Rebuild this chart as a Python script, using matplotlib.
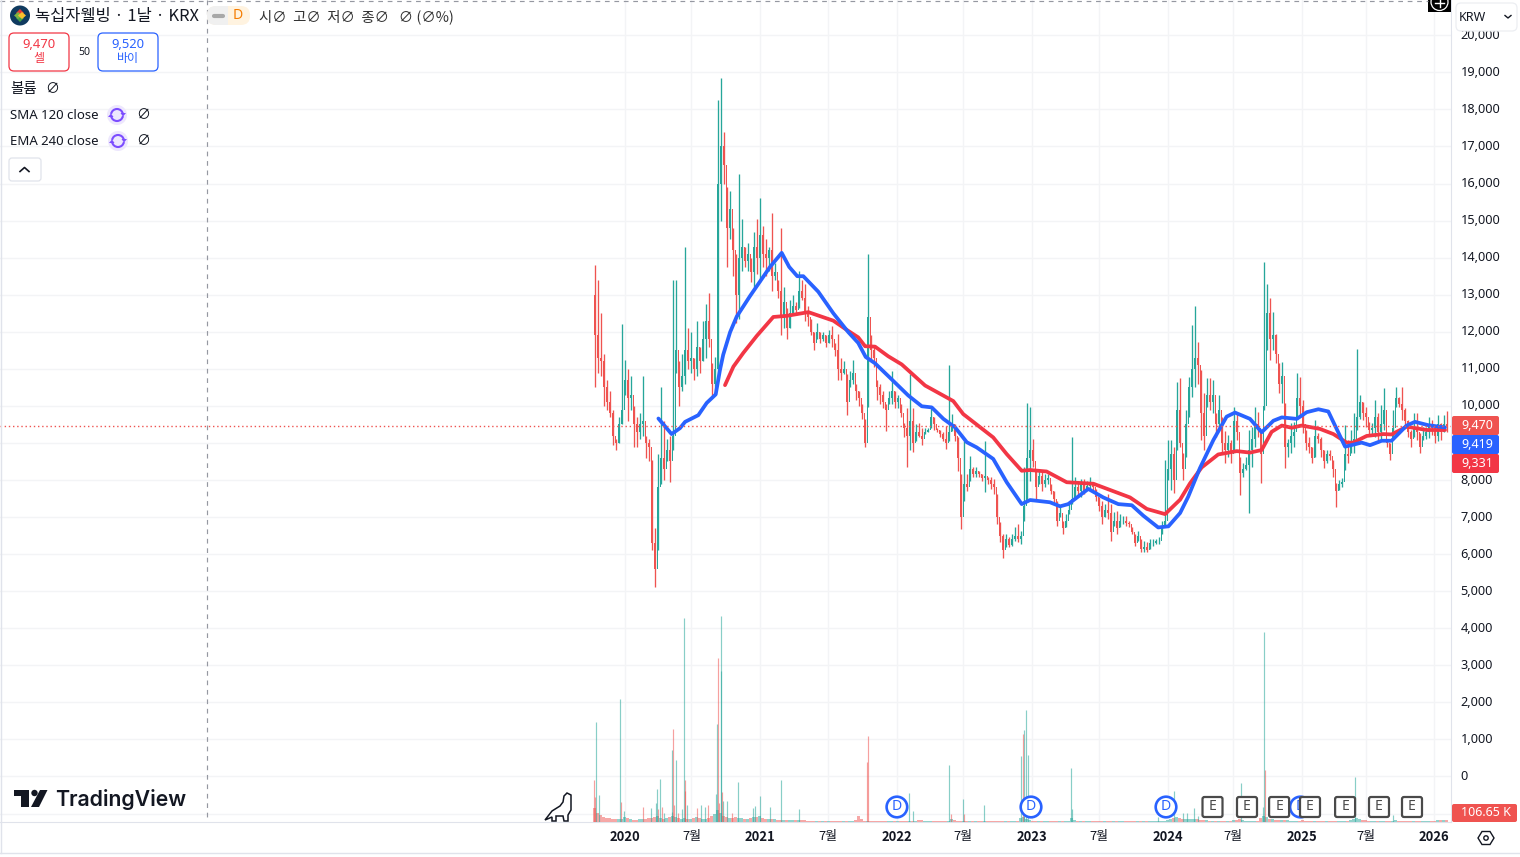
"""Green Cross Wellbeing daily chart on KRX, in the TradingView layout."""
import matplotlib
matplotlib.use("Agg")
import matplotlib.pyplot as plt
from matplotlib.patches import Arc, Circle, FancyBboxPatch, Polygon, Rectangle

RED = "#ef5350"
GREEN = "#26a69a"
BLUE = "#2962ff"
MA_RED = "#f23645"
GRID = "#f3f4f6"
EDGE = "#e0e3eb"
INK = "#131722"

KR = ["Noto Sans CJK KR", "DejaVu Sans"]
LATIN = ["Noto Sans", "Noto Sans CJK KR", "DejaVu Sans"]

# one candle per session
highs = [
    13800, 13400, 12500, 11400, 10700, 10400, 9900, 9100, 9700, 12200,
    11250, 11000, 10800, 10000, 9700, 9800, 10800, 9200, 9100, 8540,
    6700, 8700, 10500, 9600, 9100, 9200, 13400, 13400, 11200, 11400,
    14300, 12100, 12000, 11300, 12300, 11600, 12300, 12750, 13050, 11150,
    11330, 18265, 18840, 17400, 15900, 15800, 14800, 14100, 16250, 15050,
    14300, 14400, 14000, 14700, 15050, 15600, 14850, 14500, 14300, 15200,
    13850, 13400, 14800, 13200, 12650, 12850, 13000, 12800, 13650, 13400,
    13300, 12700, 12350, 12000, 12250, 12000, 12000, 11900, 12050, 12150,
    11700, 11950, 11300, 11200, 10850, 10950, 11250, 10600, 10400, 10050,
    9650, 14090, 11900, 11580, 10700, 10600, 10400, 10050, 10400, 10950,
    10400, 10300, 10050, 9550, 9950, 10850, 9950, 9500, 9550, 9400,
    9400, 9400, 9950, 9700, 9400, 9350, 9300, 9450, 11100, 9780,
    9500, 9150, 8160, 9050, 8160, 8650, 8340, 8340, 8250, 8160,
    9060, 8070, 8070, 8030, 7620, 6860, 6540, 6540, 6450, 6540,
    6720, 6810, 6630, 8340, 10080, 9960, 9110, 8250, 8300, 8210,
    8160, 8160, 7900, 7710, 7440, 7260, 6900, 7080, 7350, 9150,
    8070, 7980, 8020, 8020, 7980, 8070, 7930, 7750, 7530, 7440,
    7350, 7620, 7350, 7130, 7170, 7080, 7040, 7040, 6900, 6720,
    6540, 6630, 6410, 6360, 6320, 6410, 6410, 6410, 6450, 6900,
    8550, 9080, 9080, 8900, 10650, 10740, 8720, 9890, 10790, 12180,
    12690, 11730, 10970, 10340, 10740, 10740, 10700, 9800, 10290, 9710,
    9310, 9220, 9080, 9980, 9800, 8630, 8450, 8630, 9350, 9440,
    9980, 9840, 9350, 13870, 13300, 12900, 12540, 11950, 11150, 11190,
    10070, 9120, 9530, 9570, 10880, 10790, 10160, 9350, 9170, 8900,
    9620, 9260, 9170, 8810, 8810, 8810, 8540, 7910, 8000, 8050,
    9490, 9080, 9350, 9800, 11530, 10290, 10110, 9980, 9570, 9530,
    10160, 9800, 10020, 10470, 9080, 9000, 9890, 10500, 10250, 10520,
    9930, 9620, 9350, 9800, 9800, 9260, 9440, 9440, 9710, 9620,
    9440, 9750, 9530, 9750, 9860,
]
lows = [
    10500, 10900, 10800, 10000, 9900, 9700, 8950, 8800, 9000, 9500,
    10300, 9600, 9900, 8900, 8900, 9100, 9200, 8600, 8500, 6100,
    5100, 6100, 7900, 8000, 8500, 7950, 8800, 10900, 10000, 10400,
    10600, 11000, 10900, 10700, 10800, 10900, 11200, 11300, 11600, 10250,
    10400, 10800, 15000, 16000, 13750, 14500, 13500, 12250, 12350, 13650,
    13750, 13650, 13350, 13200, 13550, 13350, 13750, 13500, 13650, 13100,
    13400, 12900, 11900, 12100, 11800, 12100, 12450, 12450, 12650, 12850,
    12300, 12150, 11900, 11500, 11800, 11700, 11750, 11600, 11700, 11600,
    11350, 10700, 10700, 10850, 9750, 10500, 10600, 10150, 10000, 9650,
    8900, 9960, 11200, 11050, 10150, 10050, 9950, 9330, 10050, 10050,
    9950, 9950, 9700, 9150, 8350, 8800, 8750, 9050, 9150, 8950,
    9250, 9300, 9400, 9350, 9300, 9150, 9050, 8850, 9050, 9330,
    9050, 8250, 6670, 7440, 7700, 7980, 8070, 8070, 8070, 7980,
    7670, 7900, 7750, 7620, 6810, 6320, 5900, 6180, 6180, 6220,
    6360, 6320, 6270, 6900, 7440, 7980, 8340, 7440, 7900, 7710,
    7800, 7900, 7620, 7350, 6770, 6990, 6540, 6720, 7080, 7350,
    7530, 7530, 7530, 7620, 7750, 7750, 7710, 7440, 7170, 6810,
    7000, 6950, 6360, 6770, 6540, 6720, 6810, 6770, 6720, 6540,
    6220, 6360, 6050, 6050, 6050, 6140, 6220, 6270, 6270, 6540,
    6750, 8000, 7730, 7640, 8810, 8900, 8000, 8630, 9700, 10250,
    10500, 10600, 9080, 8810, 9970, 9890, 9800, 9170, 9310, 8720,
    8450, 8630, 8450, 8810, 9080, 7600, 8090, 8270, 7110, 8360,
    8900, 9170, 7910, 9890, 11500, 11240, 11500, 11150, 10340, 10070,
    8320, 8630, 8720, 8900, 9710, 9710, 9260, 8810, 8720, 8450,
    8630, 8990, 8630, 8320, 8450, 8540, 8090, 7280, 7730, 7820,
    8270, 8450, 8720, 8720, 9350, 9660, 9620, 9440, 9220, 9220,
    9170, 9000, 9080, 9350, 8900, 8540, 9080, 9980, 9980, 9620,
    9440, 9170, 8900, 9170, 9080, 8720, 9080, 9100, 9130, 9220,
    9000, 9040, 9080, 9300, 9300,
]
closes = [
    11900, 11300, 11200, 10500, 10100, 9800, 9200, 9000, 9500, 9900,
    10700, 10200, 10300, 9500, 9300, 9500, 9600, 9000, 8900, 6300,
    5600, 7800, 8600, 8300, 8800, 8500, 9200, 11500, 10500, 10800,
    11500, 11200, 11300, 11000, 11600, 11200, 11800, 12300, 11800, 10600,
    11000, 16000, 17000, 16500, 14800, 15300, 14200, 13000, 14000, 14300,
    13900, 14100, 13600, 14300, 14000, 14600, 14100, 14000, 14200, 13500,
    13600, 13100, 12400, 12800, 12100, 12500, 12700, 12600, 13100, 12900,
    12500, 12400, 12000, 11700, 12000, 11800, 11900, 11700, 11900, 11800,
    11500, 11000, 10900, 11000, 10100, 10700, 10900, 10400, 10200, 9800,
    9000, 12400, 11500, 11300, 10500, 10300, 10100, 9900, 10200, 10400,
    10100, 10200, 9800, 9400, 9200, 9600, 9000, 9300, 9200, 9100,
    9300, 9350, 9700, 9500, 9350, 9250, 9100, 9000, 9300, 9500,
    9200, 8600, 7000, 7900, 7800, 8300, 8150, 8250, 8150, 8050,
    8100, 8000, 7900, 7800, 7000, 6500, 6100, 6400, 6250, 6400,
    6500, 6400, 6500, 7300, 8600, 8800, 8500, 7800, 8100, 7900,
    8000, 8050, 7700, 7500, 6900, 7100, 6700, 6900, 7200, 7500,
    7800, 7700, 7900, 7700, 7850, 7950, 7800, 7550, 7300, 7000,
    7200, 7100, 6600, 6900, 6700, 6900, 6900, 6850, 6800, 6600,
    6300, 6500, 6150, 6200, 6100, 6300, 6300, 6350, 6350, 6700,
    6900, 8300, 8700, 8000, 9900, 9000, 8300, 9500, 10500, 11000,
    11300, 11100, 9800, 9200, 10300, 10100, 10300, 9500, 9900, 9000,
    8800, 9000, 8700, 9600, 9300, 8200, 8300, 8400, 8800, 9100,
    9500, 9400, 8700, 10000, 12500, 11800, 11900, 11400, 10600, 10800,
    8900, 9000, 9200, 9300, 10200, 10000, 9500, 9000, 8900, 8600,
    9200, 9100, 8800, 8500, 8700, 8650, 8300, 7700, 7900, 7950,
    8700, 8650, 9000, 9100, 9700, 10100, 9800, 9700, 9350, 9400,
    9700, 9300, 9500, 9900, 9000, 8700, 9400, 10200, 10050, 9900,
    9600, 9300, 9100, 9400, 9300, 8900, 9200, 9300, 9500, 9400,
    9200, 9500, 9300, 9500, 9470,
]
first_open = 13000

# volume in thousands of shares
base_volume = [
    980, 630, 490, 350, 280, 280, 210, 210, 210, 210,
    350, 280, 210, 170, 140, 210, 210, 210, 280, 280,
    350, 420, 280, 210, 280, 350, 420, 350, 280, 210,
    280, 210, 210, 280, 350, 280, 210, 210, 280, 420,
    560, 840, 630, 420, 350, 280, 280, 350, 280, 280,
    210, 210, 280, 350, 350, 420, 280, 210, 210, 210,
    210, 140, 140, 140, 140, 140, 140, 140, 140, 140,
    140, 105, 105, 105, 105, 105, 105, 105, 105, 105,
    105, 105, 105, 105, 105, 105, 105, 140, 420, 210,
    105, 105, 105, 105, 105, 105, 105, 70, 70, 70,
    70, 70, 70, 70, 105, 105, 105, 105, 140, 140,
    105, 105, 70, 70, 70, 70, 70, 70, 105, 210,
    140, 105, 70, 70, 70, 105, 105, 70, 70, 70,
    70, 70, 70, 105, 70, 70, 70, 70, 70, 70,
    70, 70, 280, 350, 210, 140, 105, 105, 105, 105,
    105, 70, 70, 70, 70, 70, 70, 70, 105, 280,
    140, 105, 105, 105, 70, 70, 70, 70, 70, 70,
    70, 70, 70, 70, 70, 105, 70, 70, 70, 70,
    70, 70, 70, 70, 70, 70, 70, 70, 105, 105,
    105, 140, 210, 280, 350, 280, 210, 210, 210, 210,
    210, 210, 140, 140, 140, 105, 105, 105, 105, 105,
    105, 105, 105, 140, 140, 210, 140, 105, 105, 105,
    105, 105, 280, 420, 350, 210, 210, 140, 140, 140,
    140, 140, 105, 105, 105, 105, 140, 105, 105, 105,
    105, 105, 70, 70, 70, 70, 70, 70, 105, 105,
    105, 105, 140, 210, 280, 210, 140, 140, 105, 105,
    105, 70, 70, 70, 70, 70, 105, 140, 105, 70,
    70, 70, 70, 70, 70, 70, 70, 70, 70, 70,
    105, 140, 140, 175, 107,
]
green_spike_s = [
    0.6, 1.6, 8.6, 9.9, 18.9, 20.6, 20.8, 21.9, 23.3, 25.7, 25.9, 27.3, 29.1,
    29.9, 30.7, 35.6, 36.7, 40.4, 40.9, 42.1, 42.3, 42.9, 44.3, 47.9, 52.9,
    53.5, 55.2, 58.6, 62.3, 68.3, 104.9, 106.3, 118.3, 122.9, 129.9, 142.3,
    143.3, 143.9, 144.6, 158.9, 159.3, 187.9, 193.3, 196.3, 197.6, 199.9,
    201.3, 215.6, 222.9, 223.3, 253.6, 266.3,
]
green_spike_k = [
    7000, 1890, 8610, 770, 980, 1330, 2310, 3010, 630, 700, 5040, 4340, 910,
    14280, 1190, 1190, 1050, 1960, 6860, 10570, 14420, 1470, 1470, 2800, 980,
    1120, 1820, 1050, 2940, 910, 2030, 770, 3990, 1610, 1190, 4620,
    6440, 7840, 4690, 3780, 910, 350, 2170, 630, 630, 980,
    420, 2730, 1050, 13300, 3150, 490,
]
red_spike_s = [
    -0.1, 0.3, 8.9, 16.3, 21.2, 22.5, 26.3, 26.6, 27.9, 30.0, 30.3, 34.1, 37.9,
    41.3, 41.6, 42.6, 45.9, 90.9, 91.3, 118.8, 123.3, 142.9, 223.6,
]
red_spike_k = [
    2940, 1750, 1400, 1050, 910, 1050, 6510, 1190, 630, 2940, 2170, 980, 1190,
    11480, 1330, 2100, 630, 4200, 6020, 560, 560, 6160, 3640,
]

# moving averages: session position and price
sma_s = [
    21.3, 25.7, 28.5, 30.2, 34.6, 37.4, 40.4, 41.8, 42.9, 45.2, 47.4, 51.8, 58.5,
    62.4, 64.9, 67.6, 69.6, 74.6, 79.6, 84.6, 87.9, 90.4, 93.5, 98.5, 104.6,
    109.1, 112.4, 116.3, 120.2, 124.1, 127.4, 132.9, 137.4, 142.4, 145.2, 151.8,
    155.2, 157.9, 164.6, 169.6, 174.6, 179.1, 182.9, 187.9, 191.3, 195.2, 197.9,
    201.8, 206.3, 210.7, 213.5, 218.5, 222.4, 226.3, 229.1, 234.1, 237.4, 241.3,
    244.6, 250.2, 255.7, 258.5, 262.4, 265.7, 270.7, 273.5, 277.9, 283.5,
]
sma_v = [
    9660, 9240, 9400, 9570, 9750, 10080, 10310, 10960, 11380, 11990, 12410, 12960,
    13750, 14130, 13750, 13500, 13500, 13080, 12500, 11990, 11700, 11320, 11150,
    10760, 10280, 9990, 9960, 9650, 9420, 9020, 8880, 8570, 7940, 7350, 7460, 7400,
    7290, 7350, 7760, 7530, 7350, 7320, 7040, 6720, 6750, 7110, 7550, 8320, 9080,
    9710, 9820, 9650, 9290, 9600, 9690, 9650, 9830, 9910, 9850, 8900, 9010, 8940,
    9060, 9060, 9470, 9570, 9480, 9420,
]
ema_s = [
    43.5, 46.3, 49.6, 54.1, 59.6, 64.1, 71.3, 79.6, 84.1, 87.9, 90.2, 93.5, 97.9,
    102.4, 110.2, 119.6, 122.9, 132.9, 137.4, 142.4, 145.2, 150.7, 157.4, 166.3,
    178.5, 184.1, 190.2, 195.2, 198.5, 202.4, 207.9, 214.1, 218.5, 222.4, 225.7,
    229.1, 232.4, 235.7, 241.8, 246.3, 250.7, 252.9, 257.4, 262.9, 265.7, 270.7,
    277.4, 283.5,
]
ema_v = [
    10560, 11060, 11430, 11890, 12400, 12430, 12530, 12300, 12050, 11850, 11610,
    11600, 11340, 11120, 10550, 10130, 9780, 9150, 8700, 8250, 8270, 8230, 7940,
    7900, 7530, 7220, 7080, 7470, 7910, 8340, 8690, 8780, 8740, 8810, 9300, 9470,
    9410, 9470, 9380, 9240, 9010, 9010, 9190, 9240, 9230, 9440, 9350, 9350,
]

price_ticks = list(range(-1000, 21000, 1000))
hidden_prices = [-1000, 9000]  # no label in the reference, the last-value tags sit there
time_ticks = [10, 32.33, 55.2, 77.7, 100.8, 122.8, 145.8, 168.3, 191, 212.8, 235.7, 257.2, 279.8]
time_labels = ["2020", "7월", "2021", "7월", "2022", "7월", "2023", "7월", "2024", "7월", "2025", "7월", "2026"]

last_price = 9470
sma_last = 9419
ema_last = 9331
last_volume = "106.65 K"
dividend_s = [100.8, 145.5, 190.5, 235.3]
earnings_s = [206, 217.5, 228.2, 238.5, 250.2, 261.5, 272.5]


def px(size):
    return size * 0.72


def ui_text(ui, x, y, s, size=13, color=INK, ha="left", weight="normal", family=None):
    ui.text(x, y, s, fontsize=px(size), color=color, ha=ha, va="center",
            fontweight=weight, family=family or LATIN, zorder=7)


def round_box(ui, x0, y0, x1, y1, edge, face="white", lw=1.0, r=5, zorder=5):
    ui.add_patch(FancyBboxPatch((x0 + r, y0 + r), x1 - x0 - 2 * r, y1 - y0 - 2 * r,
                                boxstyle=f"round,pad={r},rounding_size={r}",
                                fc=face, ec=edge, lw=lw, zorder=zorder))


def refresh_icon(ui, x, y):
    ui.add_patch(Circle((x, y), 10, fc="#ede7fd", ec="none"))
    ui.add_patch(Arc((x, y), 12, 12, theta1=190, theta2=350, color="#7c4dff", lw=1.5))
    ui.add_patch(Arc((x, y), 12, 12, theta1=10, theta2=170, color="#7c4dff", lw=1.5))
    ui.add_patch(Polygon([(x + 3.5, y - 2), (x + 9, y - 2), (x + 6, y + 1.5)], fc="#7c4dff", ec="none"))
    ui.add_patch(Polygon([(x - 3.5, y + 2), (x - 9, y + 2), (x - 6, y - 1.5)], fc="#7c4dff", ec="none"))


def draw_chart(fig):
    opens = [first_open] + closes[:-1]
    sessions = list(range(len(closes)))
    up = [c >= o for o, c in zip(opens, closes)]
    colors = [GREEN if u else RED for u in up]

    ax = fig.add_axes([0, 35 / 857, 1451 / 1520, 822 / 857])
    ax.set_xlim(-198.17, 285.5)
    ax.set_ylim(-1228, 20953)
    ax.set_axisbelow(True)
    ax.set_yticks(price_ticks)
    ax.set_yticklabels(["" if p in hidden_prices else f"{p:,}" for p in price_ticks],
                       family=LATIN, fontsize=px(12.7), color=INK, va="center")
    ax.yaxis.tick_right()
    ax.set_xticks(time_ticks)
    ax.set_xticklabels(time_labels, family=KR, fontsize=px(13), color=INK)
    for lab, txt in zip(ax.get_xticklabels(), time_labels):
        if txt != "7월":
            lab.set_fontweight("bold")
    ax.tick_params(length=0)
    ax.tick_params(axis="y", pad=7)
    ax.tick_params(axis="x", pad=6)
    ax.grid(True, color=GRID, lw=1.0)
    for side in ["top", "left"]:
        ax.spines[side].set_visible(False)
    ax.spines["right"].set_color(EDGE)
    ax.spines["bottom"].set_color(EDGE)

    ax.vlines(sessions, lows, highs, colors=colors, lw=0.95, zorder=3)
    ax.bar(sessions, [abs(c - o) for o, c in zip(opens, closes)],
           bottom=[min(o, c) for o, c in zip(opens, closes)],
           width=0.6, color=colors, lw=0, zorder=3)
    ax.plot(ema_s, ema_v, color=MA_RED, lw=2.7, solid_capstyle="round", solid_joinstyle="round", zorder=4)
    ax.plot(sma_s, sma_v, color=BLUE, lw=2.7, solid_capstyle="round", solid_joinstyle="round", zorder=5)
    ax.axhline(last_price, color=RED, lw=1.0, ls=(0, (1, 2)), zorder=6)

    vol = fig.add_axes([0, 35 / 857, 1451 / 1520, 822 / 857], sharex=ax)
    vol.set_ylim(0, 822 * 70)
    vol.axis("off")
    vol.patch.set_visible(False)
    vol.bar(sessions, base_volume, width=0.95, color=colors, alpha=0.5, lw=0)
    vol.vlines(green_spike_s, 0, green_spike_k, colors=GREEN, lw=0.85, alpha=0.55)
    vol.vlines(red_spike_s, 0, red_spike_k, colors=RED, lw=0.85, alpha=0.55)
    return ax


def draw_chrome(ui):
    # crosshair and frame
    ui.plot([206.5, 206.5], [0, 818], color="#9598a1", lw=0.85, ls=(0, (4, 4)))
    ui.plot([0, 1428], [0.5, 0.5], color="#9598a1", lw=0.85, ls=(0, (4, 4)))
    ui.plot([0.5, 0.5], [0, 853], color=EDGE, lw=1)
    ui.plot([0, 1520], [853, 853], color=EDGE, lw=1)
    ui.add_patch(Rectangle((1428, 0), 23, 12, fc="black", ec="none"))
    ui.add_patch(Circle((1439.5, 2), 8.5, fc="black", ec="white", lw=0.9))
    ui.plot([1439.5, 1439.5], [0, 7], color="white", lw=1)
    ui.plot([1435, 1444], [2.5, 2.5], color="white", lw=1)

    # symbol line
    ui.add_patch(Circle((20, 15.5), 10, fc="#0f3a5f", ec="none"))
    ui.add_patch(Polygon([(20, 9), (24, 13), (20, 17), (16, 13)], fc="#e53935", ec="none"))
    ui.add_patch(Polygon([(20, 14), (24, 18), (20, 22), (16, 18)], fc="#43a047", ec="none"))
    ui.add_patch(Polygon([(14, 15.5), (18, 12), (22, 15.5), (18, 19)], fc="#7cb342", ec="none"))
    ui.add_patch(Polygon([(18, 15.5), (22, 12), (26, 15.5), (22, 19)], fc="#fbc02d", ec="none"))
    ui_text(ui, 35, 16, "녹십자웰빙 · 1날 · KRX", size=16.5, family=KR)
    round_box(ui, 207, 6, 250, 25, "none", face="#fff3e0", r=9)
    ui.add_patch(FancyBboxPatch((216, 15), 12, 1, boxstyle="round,pad=9,rounding_size=9", fc="#f0f0f0", ec="none", zorder=5))
    ui.add_patch(Rectangle((228, 6), 9, 19, fc="#fff3e0", ec="none", zorder=5))
    ui.plot([214, 223], [15.5, 15.5], color="#a8a8a8", lw=3, solid_capstyle="round", zorder=6)
    ui.text(238, 15.5, "D", fontsize=px(14), color="#f57c00", ha="center", va="center",
            fontweight="bold", family=LATIN, zorder=6)
    ui_text(ui, 259, 17, "시∅  고∅  저∅  종∅   ∅ (∅%)", size=14.4, color="#333333", family=KR)

    # buy and sell buttons
    round_box(ui, 9, 33, 69, 71, MA_RED, lw=0.9)
    ui_text(ui, 39, 44, "9,470", size=13, color=MA_RED, ha="center", weight="bold")
    ui_text(ui, 39, 58, "셀", size=12, color=MA_RED, ha="center", family=KR)
    ui_text(ui, 84, 52, "50", size=10.5, ha="center")
    round_box(ui, 98, 33, 158, 71, BLUE, lw=0.9)
    ui_text(ui, 128, 44, "9,520", size=13, color=BLUE, ha="center", weight="bold")
    ui_text(ui, 128, 58, "바이", size=12, color=BLUE, ha="center", family=KR)

    # indicator rows
    ui_text(ui, 10, 89, "볼륨", size=14.5, family=KR)
    ui_text(ui, 52, 89.5, "∅", size=14, ha="center", family=KR)
    ui_text(ui, 10, 115.5, "SMA 120 close", size=13.2)
    refresh_icon(ui, 117, 115)
    ui_text(ui, 143, 115.5, "∅", size=14, ha="center", family=KR)
    ui_text(ui, 10, 141.5, "EMA 240 close", size=13.2)
    refresh_icon(ui, 118, 141)
    ui_text(ui, 143, 141.5, "∅", size=14, ha="center", family=KR)
    round_box(ui, 9, 158, 41, 181, EDGE, lw=0.9, r=3)
    ui.plot([20, 24.5, 29], [171.5, 167.5, 171.5], color=INK, lw=1.2, zorder=6)

    # price scale labels
    for y0, y1, val, col in [(416, 435, last_price, RED), (435, 454, sma_last, BLUE), (454, 473, ema_last, MA_RED)]:
        round_box(ui, 1452, y0, 1499, y1, "none", face=col, r=2)
        ui.text(1477.5, (y0 + y1) / 2 - 0.5, f"{val:,}", fontsize=px(12.5), color="white", ha="center",
                va="center", fontweight="bold", family=LATIN, zorder=6)
    round_box(ui, 1452, 804, 1517, 822, "none", face=RED, r=2)
    ui.text(1486, 813, last_volume, fontsize=px(12.5), color="white", ha="center", va="center",
            fontweight="bold", family=LATIN, zorder=6)
    ui.add_patch(Rectangle((1452, 0), 68, 31, fc="white", ec="none", zorder=4))
    round_box(ui, 1456, 3, 1517, 31, "#eceef2", lw=0.9, r=5)
    ui.text(1472, 17, "KRW", fontsize=px(12.5), color=INK, ha="center", va="center", family=LATIN, zorder=6)
    ui.plot([1505, 1508, 1511], [15.5, 18, 15.5], color=INK, lw=1, zorder=6)

    # settings hexagon on the time scale
    ui.add_patch(Polygon([(1478, 838), (1482, 831.5), (1490, 831.5), (1494, 838), (1490, 844.5), (1482, 844.5)],
                         fc="none", ec=INK, lw=1))
    ui.add_patch(Circle((1486, 838), 2.2, fc="none", ec=INK, lw=1))

    # logo
    ui.add_patch(Polygon([(14, 790), (29, 790), (29, 807), (21, 807), (21, 796), (14, 796)], fc=INK, ec="none"))
    ui.add_patch(Circle((34.5, 793), 3.2, fc=INK, ec="none"))
    ui.add_patch(Polygon([(40, 790), (47.5, 790), (39, 807), (31, 807)], fc=INK, ec="none"))
    ui.text(55, 799, "TradingView", fontsize=px(21.3), color=INK, ha="left", va="center",
            fontweight="semibold", family="Inter")

    # dinosaur
    ui.add_patch(Polygon([(545, 820), (552, 811), (560, 806), (563, 802), (564, 796), (567, 793), (571, 795),
                          (571, 810), (568, 815), (568, 821), (564, 821), (563, 816), (556, 816), (556, 821),
                          (552, 821), (552, 817)], fc="white", ec=INK, lw=1.1))


def draw_events(ax, ui):
    to_px = lambda s: 594.5 + 3 * s
    for s in dividend_s:
        x = to_px(s)
        ui.add_patch(Circle((x, 807), 10.3, fc="white", ec=BLUE, lw=1.9, zorder=5))
        ui.text(x, 807, "D", fontsize=px(14), color=BLUE, ha="center", va="center", family=LATIN, zorder=5)
    for s in earnings_s:
        x = to_px(s)
        round_box(ui, x - 10, 797, x + 10, 817, "#4a4a4a", lw=1.6, r=2, zorder=6)
        ui.text(x, 807, "E", fontsize=px(14), color="#4a4a4a", ha="center", va="center", family=LATIN, zorder=7)


def main():
    fig = plt.figure(figsize=(15.2, 8.57), dpi=100, facecolor="white")
    ax = draw_chart(fig)
    ui = fig.add_axes([0, 0, 1, 1])
    ui.set_xlim(0, 1520)
    ui.set_ylim(857, 0)
    ui.axis("off")
    ui.patch.set_visible(False)
    draw_chrome(ui)
    draw_events(ax, ui)
    fig.savefig("out.png", dpi=100)
    plt.close(fig)


if __name__ == "__main__":
    main()
